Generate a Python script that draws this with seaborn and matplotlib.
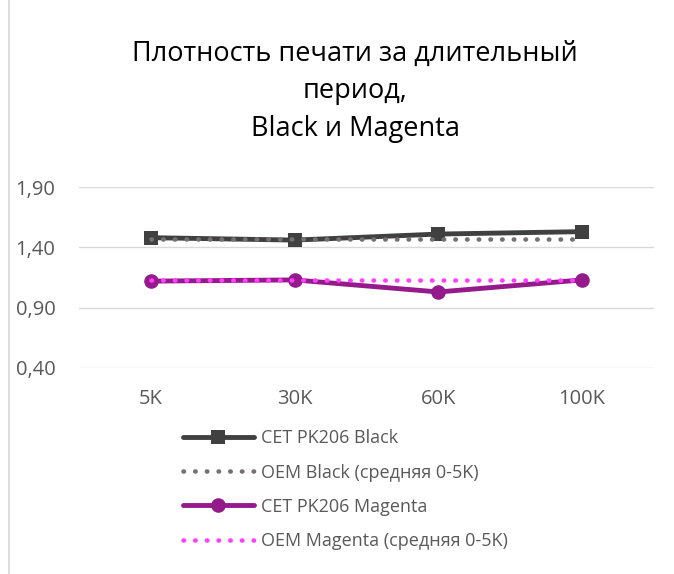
import pandas as pd
import seaborn as sns
import matplotlib.pyplot as plt
from matplotlib.lines import Line2D

periods = ['5K', '30K', '60K', '100K']
cet_black = [1.48, 1.46, 1.51, 1.53]
oem_black = [1.47, 1.47, 1.47, 1.47]
cet_magenta = [1.12, 1.13, 1.03, 1.13]
oem_magenta = [1.13, 1.13, 1.13, 1.13]
y_ticks = [0.40, 0.90, 1.40, 1.90]

sns.set_style('white')
plt.rcParams['font.family'] = ['Open Sans', 'DejaVu Sans']

df = pd.DataFrame({
    'period': periods,
    'CET PK206 Black': cet_black,
    'OEM Black (средняя 0-5K)': oem_black,
    'CET PK206 Magenta': cet_magenta,
    'OEM Magenta (средняя 0-5K)': oem_magenta,
})

fig = plt.figure(figsize=(6.74, 5.74), dpi=100)
ax = fig.add_axes([79 / 674, 1 - 368 / 574, (654 - 79) / 674, (368 - 187) / 574])

dots = (0, (0.1, 2.45))
sns.lineplot(data=df, x='period', y='CET PK206 Black', ax=ax, sort=False,
             color='#404040', lw=3.5, marker='s', markersize=10, markeredgewidth=0,
             label='CET PK206 Black')
sns.lineplot(data=df, x='period', y='OEM Black (средняя 0-5K)', ax=ax, sort=False,
             color='#767171', lw=3.3, linestyle=dots, dash_capstyle='round',
             label='OEM Black (средняя 0-5K)')
sns.lineplot(data=df, x='period', y='CET PK206 Magenta', ax=ax, sort=False,
             color='#951B8C', lw=3.5, marker='o', markersize=10.5, markeredgewidth=0,
             label='CET PK206 Magenta')
sns.lineplot(data=df, x='period', y='OEM Magenta (средняя 0-5K)', ax=ax, sort=False,
             color='#FF40FF', lw=3.3, linestyle=dots, dash_capstyle='round',
             label='OEM Magenta (средняя 0-5K)')

ax.set_xlim(-0.5, len(periods) - 0.5)
ax.set_ylim(0.40, 1.90)
ax.set_yticks(y_ticks)
ax.set_yticklabels([f'{v:.2f}'.replace('.', ',') for v in y_ticks])
ax.yaxis.grid(True, color='#D9D9D9', lw=1)
ax.set_axisbelow(True)
for s in ax.spines.values():
    s.set_visible(False)
ax.tick_params(axis='both', length=0, labelsize=14.5, labelcolor='#595959')
ax.tick_params(axis='x', pad=15)
ax.tick_params(axis='y', pad=17)
ax.set_xlabel('')
ax.set_ylabel('')

fig.text(0.527, 1 - 40 / 574, 'Плотность печати за длительный\nпериод,\nBlack и Magenta',
         ha='center', va='top', fontsize=19.5, color='#000000', linespacing=1.45)

ax.legend(loc='upper left', bbox_to_anchor=(167 / 674, 1 - 413 / 574),
          bbox_transform=fig.transFigure, frameon=False, fontsize=13,
          labelcolor='#595959', handlelength=3.9, labelspacing=0.9, handletextpad=0.4)

fig.add_artist(Line2D([9 / 674, 9 / 674], [0, 1], color='#D9D9D9', lw=1.2))

fig.savefig('out.png', dpi=100)
